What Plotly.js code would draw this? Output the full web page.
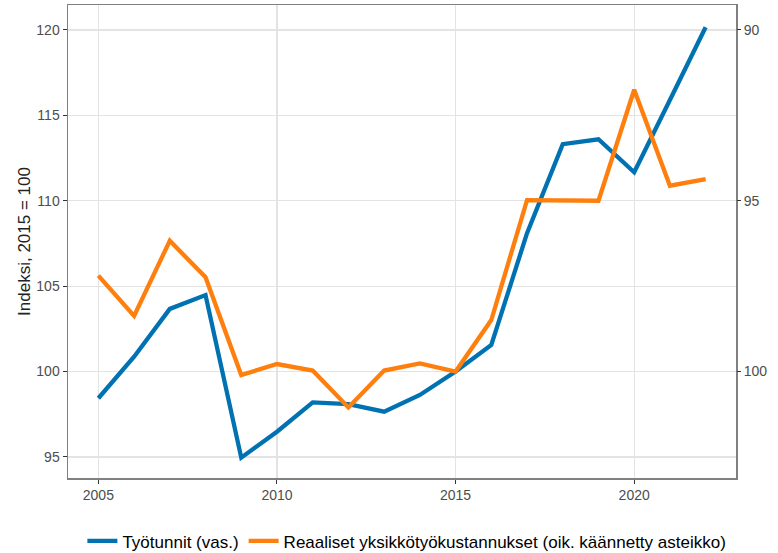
<!DOCTYPE html>
<html>
<head>
<meta charset="utf-8">
<script src="https://cdn.plot.ly/plotly-3.0.1.min.js"></script>
<style>html,body{margin:0;padding:0;background:#fff;}#chart{width:778px;height:553px;}</style>
</head>
<body>
<div id="chart"></div>
<script>
const years = [2005,2006,2007,2008,2009,2010,2011,2012,2013,2014,2015,2016,2017,2018,2019,2020,2021,2022];
const tyotunnit = [98.44,100.87,103.67,104.48,94.96,96.48,98.2,98.1,97.65,98.63,100.0,101.56,108.1,113.31,113.6,111.67,115.9,120.16];
const yksikkotyokustannukset = [97.19,98.37,96.17,97.24,100.10,99.78,99.97,101.05,99.97,99.76,100.0,98.49,94.98,95.0,95.0,91.75,94.56,94.37];
const seriesNames = ["Työtunnit (vas.)", "Reaaliset yksikkötyökustannukset (oik. käännetty asteikko)"];
const xTicks = [2005,2010,2015,2020];
const yLeftTicks = [95,100,105,110,115,120];
const yRightTicks = [90,95,100];
const yTitle = "Indeksi, 2015 = 100";

const FONT = "Liberation Sans, Arial, sans-serif";
const traces = [
  {x: years, y: tyotunnit, type: "scatter", mode: "lines", name: seriesNames[0],
   line: {color: "#0072B2", width: 4.3}, yaxis: "y"},
  {x: years, y: yksikkotyokustannukset, type: "scatter", mode: "lines", name: seriesNames[1],
   line: {color: "#FF7F0E", width: 4.3}, yaxis: "y2"}
];
const axisCommon = {
  ticks: "outside", ticklen: 4, tickwidth: 1, tickcolor: "#333333",
  tickfont: {family: FONT, size: 14, color: "#4d4d4d"},
  zeroline: false
};
const layout = {
  width: 778, height: 553,
  margin: {l: 68, r: 42, t: 5, b: 75},
  paper_bgcolor: "#ffffff", plot_bgcolor: "#ffffff",
  font: {family: FONT},
  showlegend: true,
  legend: {orientation: "h", xref: "container", x: 0.523, xanchor: "center",
           yref: "container", y: 0.021, yanchor: "middle",
           font: {family: FONT, size: 17, color: "#000000"}, traceorder: "normal"},
  xaxis: Object.assign({}, axisCommon, {
    range: [2004.15, 2022.85], tickvals: xTicks, ticktext: xTicks.map(String),
    showgrid: true, gridcolor: "#e3e3e3", gridwidth: 1.3,
    showline: true, mirror: true, linecolor: "#808080", linewidth: 1.5
  }),
  yaxis: Object.assign({}, axisCommon, {
    range: [93.77, 121.46], tickvals: yLeftTicks, ticktext: yLeftTicks.map(String),
    showgrid: true, gridcolor: "#e3e3e3", gridwidth: 1.3,
    showline: true, mirror: true, linecolor: "#808080", linewidth: 1.5,
    title: {text: yTitle, font: {family: FONT, size: 17, color: "#222222"}, standoff: 1}
  }),
  yaxis2: Object.assign({}, axisCommon, {
    overlaying: "y", side: "right",
    range: [103.115, 89.27], tickvals: yRightTicks, ticktext: yRightTicks.map(String),
    showgrid: false, showline: false
  })
};
Plotly.newPlot("chart", traces, layout, {staticPlot: true, displayModeBar: false});
</script>
</body>
</html>
